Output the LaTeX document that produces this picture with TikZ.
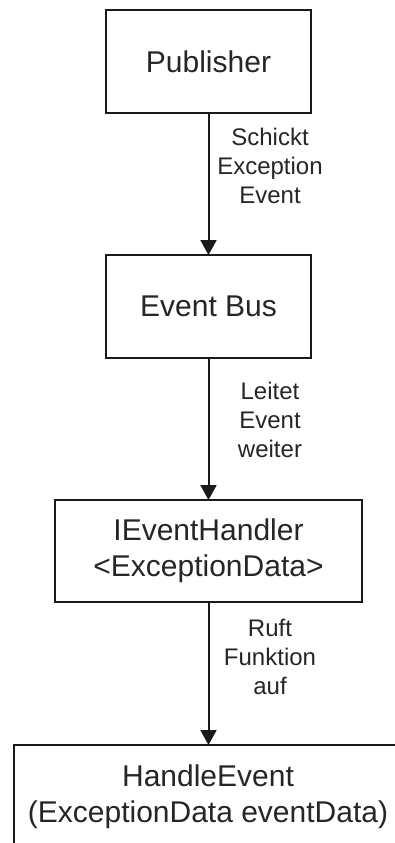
\documentclass[tikz,border=0pt]{standalone}
\usepackage{fontspec}
\setmainfont{Liberation Sans}
\usetikzlibrary{arrows.meta}
\definecolor{linecol}{HTML}{1A1A1A}
\definecolor{textcol}{HTML}{262626}
\tikzset{
  boxnode/.style={draw=linecol, line width=2pt, inner sep=0pt, align=center,
    text=textcol, font=\fontsize{30}{36}\selectfont},
  lblnode/.style={inner sep=0pt, align=center, text=textcol,
    font=\fontsize{24}{29}\selectfont},
  arr/.style={draw=linecol, line width=2pt,
    -{Triangle[length=15pt,width=16pt]}, shorten >=-1pt}
}
\begin{document}
\begin{tikzpicture}[x=1pt,y=-1pt]
\useasboundingbox (0,0) rectangle (395,843);
\clip (0,0) rectangle (395,843);
\fill[white] (0,0) rectangle (395,843);
\node[boxnode, minimum width=205pt, minimum height=103pt] (pub) at (208.5,61.5) {Publisher};
\node[boxnode, minimum width=205pt, minimum height=103pt] (bus) at (208.5,306.5) {Event Bus};
\node[boxnode, minimum width=307pt, minimum height=102pt] (ieh) at (208.5,551) {IEventHandler\\<ExceptionData>};
\node[boxnode, minimum width=388pt, minimum height=104pt] (he) at (208,797) {HandleEvent\\(ExceptionData eventData)};
\draw[arr] (pub.south) -- (bus.north);
\draw[arr] (bus.south) -- (ieh.north);
\draw[arr] (ieh.south) -- (ieh.south |- he.north);
\node[lblnode] (l1) at (270,166) {Schickt\\Exception\\Event};
\node[lblnode] (l2) at (270,420) {Leitet\\Event\\weiter};
\node[lblnode] (l3) at (270,657) {Ruft\\Funktion\\auf};
\end{tikzpicture}
\end{document}
